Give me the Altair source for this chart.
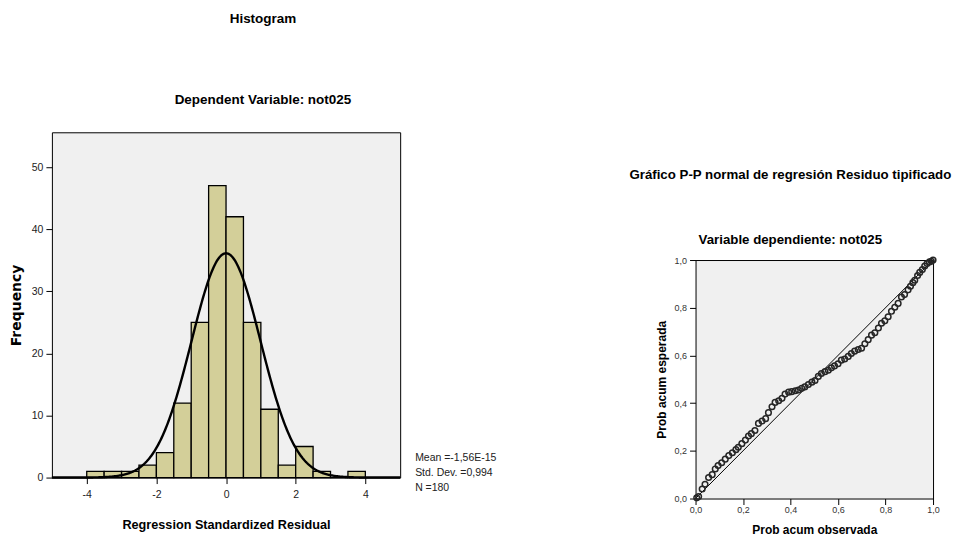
import altair as alt
import pandas as pd

# ---------------- Histogram data ----------------
bin_start = [-4.0, -3.5, -3.0, -2.5, -2.0, -1.5, -1.0, -0.5, 0.0, 0.5, 1.0, 1.5, 2.0, 2.5, 3.0, 3.5]
bin_end = [-3.5, -3.0, -2.5, -2.0, -1.5, -1.0, -0.5, 0.0, 0.5, 1.0, 1.5, 2.0, 2.5, 3.0, 3.5, 4.0]
counts = [1, 1, 1, 2, 4, 12, 25, 47, 42, 25, 11, 2, 5, 1, 0, 1]
resid_mean = -1.56e-15
resid_sd = 0.994
n_cases = 180
bin_width = 0.5
stats_lines = ["Mean =-1,56E-15", "Std. Dev. =0,994", "N =180"]
hist_x_ticks = [-4, -2, 0, 2, 4]
hist_y_ticks = [0, 10, 20, 30, 40, 50]

# ---------------- P-P plot data ----------------
pp_observed = [0.005, 0.013, 0.028, 0.040, 0.055, 0.070, 0.083, 0.095, 0.110, 0.125,
               0.140, 0.155, 0.170, 0.180, 0.195, 0.210, 0.223, 0.235, 0.250, 0.265,
               0.280, 0.295, 0.307, 0.322, 0.335, 0.350, 0.364, 0.377, 0.392, 0.405,
               0.420, 0.433, 0.447, 0.460, 0.475, 0.490, 0.503, 0.517, 0.530, 0.545,
               0.559, 0.572, 0.585, 0.600, 0.614, 0.628, 0.643, 0.656, 0.670, 0.685,
               0.699, 0.713, 0.727, 0.741, 0.755, 0.770, 0.783, 0.797, 0.811, 0.825,
               0.839, 0.853, 0.867, 0.880, 0.895, 0.905, 0.915, 0.923, 0.935, 0.944,
               0.955, 0.965, 0.975, 0.985, 0.993, 1.000]
pp_expected = [0.003, 0.008, 0.040, 0.060, 0.088, 0.100, 0.124, 0.138, 0.150, 0.165,
               0.180, 0.192, 0.205, 0.215, 0.230, 0.245, 0.262, 0.272, 0.285, 0.315,
               0.325, 0.335, 0.360, 0.385, 0.403, 0.410, 0.420, 0.438, 0.446, 0.448,
               0.452, 0.455, 0.462, 0.468, 0.478, 0.488, 0.495, 0.512, 0.524, 0.532,
               0.538, 0.548, 0.556, 0.565, 0.580, 0.585, 0.596, 0.608, 0.618, 0.625,
               0.630, 0.649, 0.666, 0.685, 0.695, 0.715, 0.735, 0.745, 0.762, 0.785,
               0.802, 0.818, 0.845, 0.855, 0.875, 0.890, 0.905, 0.915, 0.935, 0.948,
               0.960, 0.975, 0.985, 0.992, 0.995, 1.000]
diag_vals = [0.0, 1.0]
pp_ticks = [0.0, 0.2, 0.4, 0.6, 0.8, 1.0]

SANS = "Liberation Sans, Arial, Helvetica, sans-serif"

# ---------------- Histogram ----------------
HW, HH = 349, 346
xs = alt.Scale(domain=[-5, 5], nice=False, zero=False)
ys = alt.Scale(domain=[0, 55.6], nice=False)

hist_df = pd.DataFrame({"start": bin_start, "end": bin_end, "count": counts})

bars = alt.Chart(hist_df).mark_rect(fill="#d3cf99", stroke="black", strokeWidth=1.3).encode(
    x=alt.X("start:Q", scale=xs, axis=alt.Axis(
        values=hist_x_ticks, labelExpr="toString(datum.value)",
        title="Regression Standardized Residual", grid=False, domain=False,
        tickSize=6, tickColor="black", labelPadding=6, labelFont=SANS, labelFontSize=10.5,
        labelColor="#222", labelFlush=False, labelOverlap=False,
        titleFont=SANS, titleFontWeight="bold", titleFontSize=12.7, titlePadding=19, titleColor="black")),
    x2="end:Q",
    y=alt.Y("count:Q", scale=ys, axis=alt.Axis(
        values=hist_y_ticks, labelExpr="toString(datum.value)",
        title="Frequency", grid=False, domain=False,
        tickSize=6, tickColor="black", labelPadding=3, labelFont=SANS, labelFontSize=10.5,
        labelColor="#222", labelFlush=False, labelOverlap=False,
        titleFont="DejaVu Sans", titleFontWeight="bold", titleFontSize=14, titlePadding=8, titleColor="black")),
    y2=alt.datum(0),
)

curve = alt.Chart(alt.sequence(-5, 5.0001, 0.025, as_="z")).transform_calculate(
    freq=f"{n_cases * bin_width} / ({resid_sd} * sqrt(2 * PI)) * exp(-0.5 * pow((datum.z - ({resid_mean})) / {resid_sd}, 2))"
).mark_line(color="black", strokeWidth=2.4).encode(
    x=alt.X("z:Q", scale=xs),
    y=alt.Y("freq:Q", scale=ys),
)

stats = alt.Chart(pd.DataFrame({"t": [0]})).mark_text(
    text=stats_lines, align="left", baseline="top", lineHeight=15,
    font=SANS, fontSize=10.5, color="#222"
).encode(x=alt.value(HW + 15), y=alt.value(HH - 25))

hist = alt.layer(bars, curve, stats).properties(
    width=HW, height=HH,
    title=alt.Title(
        "Histogram", subtitle="Dependent Variable: not025",
        font=SANS, fontSize=13.5, fontWeight="bold", color="black",
        subtitleFont=SANS, subtitleFontSize=13.5, subtitleFontWeight="bold", subtitleColor="black",
        subtitlePadding=68, offset=26, anchor="middle", frame="group", dx=37),
    view=alt.ViewBackground(fill="#f0f0f0", stroke="black", strokeWidth=1),
)

# ---------------- P-P plot ----------------
PW, PH = 238, 239
pps = alt.Scale(domain=[0, 1], nice=False)
pp_label_expr = "replace(format(datum.value, '.1f'), '.', ',')"

diag_df = pd.DataFrame({"a": diag_vals, "b": diag_vals})
pp_df = pd.DataFrame({"obs": pp_observed, "exp": pp_expected})

diag_line = alt.Chart(diag_df).mark_line(color="black", strokeWidth=1).encode(
    x=alt.X("a:Q", scale=pps, axis=alt.Axis(
        values=pp_ticks, labelExpr=pp_label_expr, title="Prob acum observada", grid=False, domain=False,
        tickSize=6, tickColor="black", labelPadding=1, labelFont=SANS, labelFontSize=9,
        labelColor="#333", labelFlush=False, labelOverlap=False,
        titleFont=SANS, titleFontSize=12, titleFontWeight="bold", titlePadding=10, titleColor="black")),
    y=alt.Y("b:Q", scale=pps, axis=alt.Axis(
        values=pp_ticks, labelExpr=pp_label_expr, title="Prob acum esperada", grid=False, domain=False,
        tickSize=6, tickColor="black", labelPadding=3, labelFont=SANS, labelFontSize=9,
        labelColor="#333", labelFlush=False, labelOverlap=False,
        titleFont=SANS, titleFontSize=12, titleFontWeight="bold", titlePadding=6, titleColor="black")),
)

points = alt.Chart(pp_df).mark_point(
    shape="circle", filled=False, size=32, strokeWidth=1.5, color="#262626", opacity=1
).encode(
    x=alt.X("obs:Q", scale=pps),
    y=alt.Y("exp:Q", scale=pps),
)

pp = alt.layer(diag_line, points).properties(
    width=PW, height=PH,
    title=alt.Title(
        "Gráfico P-P normal de regresión Residuo tipificado", subtitle="Variable dependiente: not025",
        font=SANS, fontSize=13.3, fontWeight="bold", color="black",
        subtitleFont=SANS, subtitleFontSize=13.3, subtitleFontWeight="bold", subtitleColor="black",
        subtitlePadding=52, offset=8, anchor="middle", frame="group", dx=-24),
    view=alt.ViewBackground(fill="#f0f0f0", stroke="black", strokeWidth=1),
)

spacer = alt.Chart(pd.DataFrame({"s": [0]})).mark_point(opacity=0).encode(
    x=alt.value(0), y=alt.value(0)
).properties(width=PW, height=34,
             view=alt.ViewBackground(stroke="transparent", fill="transparent"))

right = alt.vconcat(spacer, pp, spacing=0)

chart = alt.hconcat(hist, right, spacing=132).properties(
    padding={"left": 0, "top": 2, "right": 0, "bottom": 0}
).configure(background="white")

chart.save("out.html", embed_options={"renderer": "svg", "actions": False})
